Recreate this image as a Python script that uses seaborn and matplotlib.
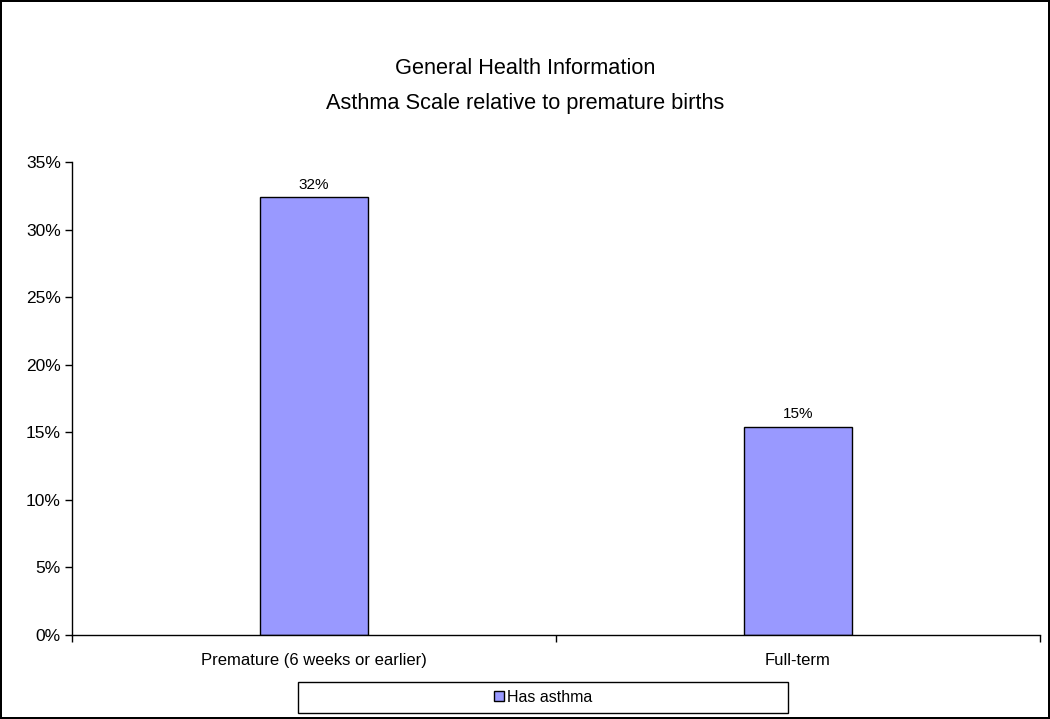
import numpy as np
import pandas as pd
import seaborn as sns
import matplotlib.pyplot as plt
from matplotlib.patches import Rectangle
from matplotlib.ticker import PercentFormatter

categories = ['Premature (6 weeks or earlier)', 'Full-term']
has_asthma = [32.4, 15.4]
series_name = 'Has asthma'
y_ticks = [0, 5, 10, 15, 20, 25, 30, 35]

df = pd.DataFrame({'Group': categories, 'Value': has_asthma, 'Series': series_name})

sns.set_style('white')
plt.rcParams['font.family'] = ['Liberation Sans', 'DejaVu Sans']
plt.rcParams['text.color'] = 'black'
plt.rcParams['xtick.color'] = 'black'
plt.rcParams['ytick.color'] = 'black'

fig = plt.figure(figsize=(10.5, 7.19), dpi=100, edgecolor='black', linewidth=1.5)
ax = fig.add_axes([72 / 1050, 84 / 719, 968 / 1050, 473 / 719])

sns.barplot(data=df, x='Group', y='Value', hue='Series', palette=['#9999FF'],
            width=0.223, edgecolor='black', linewidth=1, saturation=1, ax=ax)

for c in ax.containers:
    ax.bar_label(c, labels=[f'{v:.0f}%' for v in has_asthma], padding=4, fontsize=11)

ax.set_xlim(-0.5, 1.5)
ax.set_ylim(0, 35)
ax.set_yticks(y_ticks)
ax.yaxis.set_major_formatter(PercentFormatter(decimals=0))
ax.tick_params(axis='y', which='major', left=True, length=5, width=1, color='black',
               labelsize=12.5, pad=3)
ax.set_xticks([0, 1])
ax.set_xticklabels(categories)
ax.tick_params(axis='x', which='major', length=0, labelsize=12, pad=13)
ax.set_xticks([-0.5, 0.5, 1.5], minor=True)
ax.tick_params(axis='x', which='minor', bottom=True, length=5, width=1, color='black')
ax.set_xlabel('')
ax.set_ylabel('')
for s in ['top', 'right']:
    ax.spines[s].set_visible(False)
for s in ['left', 'bottom']:
    ax.spines[s].set_color('black')
    ax.spines[s].set_linewidth(1)

fig.text(0.5, 1 - 69 / 719, 'General Health Information', ha='center', va='center', fontsize=15.7)
fig.text(0.5, 1 - 104 / 719, 'Asthma Scale relative to premature births', ha='center',
         va='center', fontsize=15.7)

# legend box below the axes
ax.legend_.remove()
fig.patches.append(Rectangle((298 / 1050, 6 / 719), 490 / 1050, 31 / 719,
                             transform=fig.transFigure, fill=False,
                             edgecolor='black', linewidth=1))
handles = [plt.Rectangle((0, 0), 1, 1, facecolor='#9999FF', edgecolor='black', linewidth=1)]
fig.legend(handles, [series_name], loc='center', bbox_to_anchor=(543 / 1050, 21.5 / 719),
           frameon=False, fontsize=11.5, handlelength=0.6, handleheight=0.6,
           handletextpad=0.2, borderpad=0)

fig.savefig('out.png', dpi=100)
